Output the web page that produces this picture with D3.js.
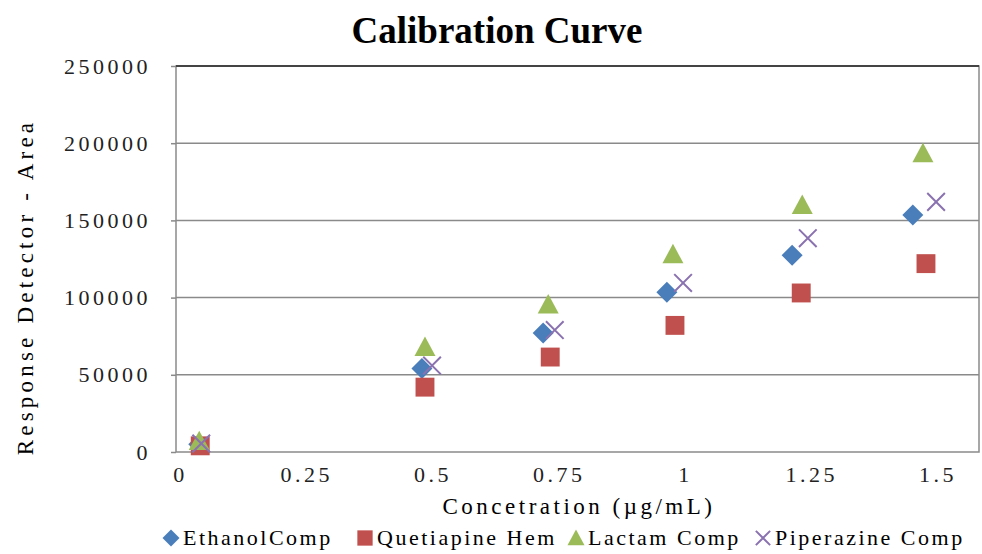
<!DOCTYPE html>
<meta charset="utf-8">
<style>
  body { margin: 0; background: #fff; }
  svg { display: block; }
  svg text { font-family: "Liberation Serif", "Times New Roman", serif; }
  .grid line { stroke: #8a8a8a; stroke-width: 1.5px; }
  .tick text { fill: #222; }
</style>
<body>
<svg width="982" height="554"></svg>
<script src="https://cdnjs.cloudflare.com/ajax/libs/d3/7.8.5/d3.min.js"></script>
<script>
// data ------------------------------------------------------------------
var seriesNames = ["EthanolComp", "Quetiapine Hem", "Lactam Comp", "Piperazine Comp"];
var ethanolX = [0.045, 0.487, 0.727, 0.972, 1.220, 1.459];
var ethanolY = [5000, 54000, 77000, 103500, 127500, 153500];
var quetiapineX = [0.048, 0.493, 0.741, 0.988, 1.238, 1.485];
var quetiapineY = [4000, 42000, 61500, 82000, 103000, 122000];
var lactamX = [0.046, 0.493, 0.737, 0.984, 1.240, 1.479];
var lactamY = [7000, 68000, 95500, 128000, 160000, 193500];
var piperazineX = [0.050, 0.507, 0.750, 1.004, 1.251, 1.505];
var piperazineY = [5500, 56000, 79000, 109500, 138500, 162000];
var xTicks = [0, 0.25, 0.5, 0.75, 1, 1.25, 1.5];
var yTicks = [0, 50000, 100000, 150000, 200000, 250000];

var colors = ["#4a7ebb", "#c0504d", "#9bbb59", "#8a72b0"];
var shapes = ["diamond", "square", "triangle", "cross"];

var series = [
  {name: seriesNames[0], xs: ethanolX, ys: ethanolY},
  {name: seriesNames[1], xs: quetiapineX, ys: quetiapineY},
  {name: seriesNames[2], xs: lactamX, ys: lactamY},
  {name: seriesNames[3], xs: piperazineX, ys: piperazineY}
];

const svg = d3.select("svg");
const plotL = 176, plotR = 979, plotT = 66, plotB = 452;

const x = d3.scaleLinear().domain([0, 1.59]).range([plotL, plotR]);
const y = d3.scaleLinear().domain([0, 250000]).range([plotB, plotT]);

// marker path, centred on 0,0 -------------------------------------------
function marker(shape, s) {
  var h = s / 2;
  if (shape == "diamond") return `M0,${-h}L${h},0L0,${h}L${-h},0Z`;
  if (shape == "square") { var q = s * 0.45; return `M${-q},${-q}H${q}V${q}H${-q}Z`; }
  if (shape == "triangle") return `M0,${-h}L${h},${h * 0.85}L${-h},${h * 0.85}Z`;
  var c = s * 0.42;
  return `M${-c},${-c}L${c},${c}M${c},${-c}L${-c},${c}`;
}

function drawMarker(g, i, s) {
  var p = g.append("path").attr("d", marker(shapes[i], s));
  if (shapes[i] == "cross") p.attr("fill", "none").attr("stroke", colors[i]).attr("stroke-width", 2);
  else p.attr("fill", colors[i]);
}

// gridlines --------------------------------------------------------------
svg.append("g").attr("class", "grid")
  .selectAll("line").data(yTicks.slice(1)).enter().append("line")
  .attr("x1", plotL).attr("x2", plotR)
  .attr("y1", d => y(d)).attr("y2", d => y(d))
  .style("stroke", d => d == 250000 ? "#444" : null);

// plot border
svg.append("rect")
  .attr("x", plotL).attr("y", plotT)
  .attr("width", plotR - plotL).attr("height", plotB - plotT)
  .attr("fill", "none").attr("stroke", "#8a8a8a").attr("stroke-width", 1.5);
svg.append("line").attr("x1", plotL).attr("x2", plotR).attr("y1", plotT).attr("y2", plotT)
  .attr("stroke", "#444").attr("stroke-width", 2);

// axes -------------------------------------------------------------------
const yAxis = svg.append("g")
  .attr("transform", `translate(${plotL},0)`)
  .call(d3.axisLeft(y).tickValues(yTicks).tickSize(5).tickPadding(20).tickFormat(d3.format("d")))
  .attr("font-family", null);
yAxis.select(".domain").remove();
yAxis.selectAll(".tick line").attr("stroke", "#8a8a8a").attr("stroke-width", 1.5);
yAxis.selectAll(".tick text").style("font-size", "22px").style("letter-spacing", "3.5px");

const xAxis = svg.append("g")
  .attr("transform", `translate(0,${plotB})`)
  .call(d3.axisBottom(x).tickValues(xTicks).tickSize(0).tickPadding(14).tickFormat(d => String(d)))
  .attr("font-family", null);
xAxis.select(".domain").remove();
xAxis.selectAll(".tick text").style("font-size", "22px").style("letter-spacing", "3.5px")
  .attr("dx", 4);

// points -----------------------------------------------------------------
series.forEach(function(s, i) {
  svg.append("g").selectAll("g")
    .data(s.xs.map((v, j) => [v, s.ys[j]]))
    .enter().append("g")
    .attr("transform", d => `translate(${x(d[0])},${y(d[1])})`)
    .each(function() { drawMarker(d3.select(this), i, 21); });
});

// titles -----------------------------------------------------------------
svg.append("text")
  .attr("x", 497).attr("y", 43)
  .attr("text-anchor", "middle")
  .style("font-size", "37px").style("font-weight", "bold")
  .text("Calibration Curve");

svg.append("text")
  .attr("x", 579).attr("y", 514)
  .attr("text-anchor", "middle")
  .style("font-size", "23px").style("letter-spacing", "3.5px")
  .text("Concetration (µg/mL)");

svg.append("text")
  .attr("transform", "translate(33,287) rotate(-90)")
  .attr("text-anchor", "middle")
  .style("font-size", "23px").style("letter-spacing", "4.2px")
  .text("Response Detector  - Area");

// legend -----------------------------------------------------------------
var legendX = [171, 365, 576, 763];
var legend = svg.append("g").attr("transform", "translate(0,538)");
series.forEach(function(s, i) {
  var g = legend.append("g").attr("transform", `translate(${legendX[i]},0)`);
  drawMarker(g, i, 17);
  g.append("text")
    .attr("x", 12).attr("y", 7)
    .style("font-size", "22px").style("letter-spacing", "2.5px")
    .text(s.name);
});
</script>
</body>
